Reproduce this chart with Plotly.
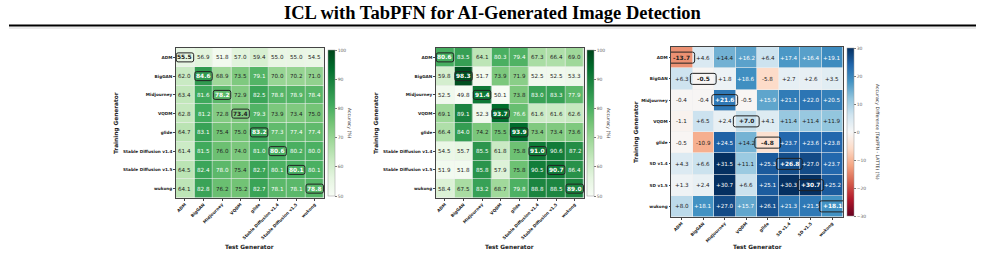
import plotly.graph_objects as go

# ---------------- data ----------------
gens_full = ["ADM", "BigGAN", "Midjourney", "VQDM", "glide",
             "Stable Diffusion v1.4", "Stable Diffusion v1.5", "wukong"]
gens_short = ["ADM", "BigGAN", "Midjourney", "VQDM", "glide",
              "SD v1.4", "SD v1.5", "wukong"]

acc_a = [
    [55.5, 56.9, 51.8, 57.0, 59.4, 55.0, 55.0, 54.5],
    [62.0, 84.6, 68.9, 73.5, 79.1, 70.0, 70.2, 71.0],
    [63.4, 81.6, 78.2, 72.9, 82.5, 78.8, 78.9, 78.4],
    [62.8, 81.2, 72.8, 73.4, 79.3, 73.9, 73.4, 75.0],
    [64.7, 83.1, 75.4, 75.0, 83.2, 77.3, 77.4, 77.4],
    [61.4, 81.5, 76.0, 74.0, 81.0, 80.6, 80.2, 80.0],
    [64.5, 82.4, 78.0, 75.4, 82.7, 80.1, 80.1, 80.1],
    [64.1, 82.8, 76.2, 75.2, 82.7, 78.1, 78.1, 78.8],
]
acc_b = [
    [80.6, 83.5, 64.1, 80.3, 79.4, 67.3, 66.4, 69.0],
    [59.8, 98.3, 51.7, 73.9, 71.9, 52.5, 52.5, 53.3],
    [52.5, 49.8, 91.4, 50.1, 73.8, 83.0, 83.3, 77.9],
    [69.1, 89.1, 52.3, 93.7, 76.6, 61.6, 61.6, 62.6],
    [66.4, 84.0, 74.2, 75.5, 93.9, 73.4, 73.4, 73.6],
    [54.5, 55.7, 85.5, 61.8, 75.8, 91.0, 90.6, 87.2],
    [51.9, 51.8, 85.8, 57.9, 75.8, 90.5, 90.7, 86.4],
    [58.4, 67.5, 83.2, 68.7, 79.8, 88.8, 88.5, 89.0],
]
diff = [
    [-13.7, 4.6, 14.4, 16.2, 6.4, 17.4, 16.4, 19.1],
    [6.3, -0.5, 1.8, 18.6, -5.8, 2.7, 2.6, 3.5],
    [-0.4, -0.4, 21.6, -0.5, 15.9, 21.1, 22.0, 20.5],
    [-1.1, 6.5, 2.4, 7.0, 4.1, 11.4, 11.4, 11.9],
    [-0.5, -10.9, 24.5, 14.2, -4.8, 23.7, 23.6, 23.8],
    [4.3, 6.6, 31.5, 11.1, 25.3, 26.8, 27.0, 23.7],
    [1.3, 2.4, 30.7, 6.6, 25.1, 30.3, 30.7, 25.2],
    [8.0, 18.1, 27.0, 15.7, 26.1, 21.3, 21.5, 18.1],
]
acc_ticks = [50, 60, 70, 80, 90, 100]
diff_ticks = [-30, -20, -10, 0, 10, 20, 30]

title = "ICL with TabPFN for AI-Generated Image Detection"

# ---------------- styles ----------------
W, H = 985, 255
greens = ["#f7fcf5", "#e5f5e0", "#c7e9c0", "#a1d99b", "#74c476",
          "#41ab5d", "#238b45", "#006d2c", "#00441b"]
greens_cs = [[i / (len(greens) - 1), c] for i, c in enumerate(greens)]
rdbu = ["#67001f", "#b2182b", "#d6604d", "#f4a582", "#fddbc7", "#f7f7f7",
        "#d1e5f0", "#92c5de", "#4393c3", "#2166ac", "#053061"]
rdbu_cs = [[i / (len(rdbu) - 1), c] for i, c in enumerate(rdbu)]

FONT = "DejaVu Sans"


def px_x(p):
    return p / W


def px_y(p):
    return 1 - p / H


panels = [
    dict(z=acc_a, labels=gens_full, cs=greens_cs, zmin=50, zmax=100, ticks=acc_ticks,
         xd=(175.7, 324.0), yd=(48, 198), cbx=328, cby=(50, 196),
         cbtitle="Accuracy (%)", cbtx=350, ylabx=116, fmt="{:.1f}",
         white=lambda v: v >= 76.5, bw=0.47, bh=0.24, fs=5.6),
    dict(z=acc_b, labels=gens_full, cs=greens_cs, zmin=50, zmax=100, ticks=acc_ticks,
         xd=(435.7, 584.0), yd=(48, 198), cbx=587, cby=(50, 196),
         cbtitle="Accuracy (%)", cbtx=609, ylabx=376, fmt="{:.1f}",
         white=lambda v: v >= 76.5, bw=0.47, bh=0.24, fs=5.6),
    dict(z=diff, labels=gens_short, cs=rdbu_cs, zmin=-30, zmax=30, ticks=diff_ticks,
         xd=(671.0, 843.0), yd=(47, 217), cbx=847, cby=(48, 216),
         cbtitle="Accuracy Difference (TabPFN - LATTE) (%)", cbtx=878, ylabx=636,
         fmt="{:+.1f}", white=lambda v: abs(v) > 15, bw=0.6, bh=0.26, fs=5.6),
]

fig = go.Figure()
annotations = []
shapes = []


def rrect(cx, cy, hw, hh, r):
    x0, x1 = cx - hw, cx + hw
    y0, y1 = cy - hh, cy + hh
    return (f"M {x0 + r},{y0} L {x1 - r},{y0} Q {x1},{y0} {x1},{y0 + r} "
            f"L {x1},{y1 - r} Q {x1},{y1} {x1 - r},{y1} L {x0 + r},{y1} "
            f"Q {x0},{y1} {x0},{y1 - r} L {x0},{y0 + r} Q {x0},{y0} {x0 + r},{y0} Z")


TICKFS = 4.2

for k, p in enumerate(panels):
    sfx = "" if k == 0 else str(k + 1)
    n = len(p["labels"])
    idx = list(range(n))
    cb_len = (p["cby"][1] - p["cby"][0]) / H
    cb_y = px_y((p["cby"][0] + p["cby"][1]) / 2)
    fig.add_trace(go.Heatmap(
        z=p["z"], x=idx, y=idx, colorscale=p["cs"], zmin=p["zmin"], zmax=p["zmax"],
        xgap=0.6, ygap=0.6, xaxis="x" + sfx, yaxis="y" + sfx, hoverinfo="z",
        colorbar=dict(x=px_x(p["cbx"]), xanchor="left", xpad=0, ypad=0,
                      y=cb_y, yanchor="middle", len=cb_len, lenmode="fraction",
                      thickness=7, thicknessmode="pixels",
                      tickvals=p["ticks"], ticks="outside", ticklen=2, tickwidth=0.5,
                      tickcolor="#777", tickfont=dict(size=4.5, color="#666", family=FONT),
                      outlinewidth=0.5, outlinecolor="#999"),
    ))
    ax = dict(domain=[px_x(p["xd"][0]), px_x(p["xd"][1])], range=[-0.5, n - 0.5],
              tickvals=idx, ticktext=p["labels"], tickangle=-45,
              tickfont=dict(size=TICKFS, color="#222", family=FONT, weight="bold"),
              showgrid=False, zeroline=False, showline=True, mirror=True,
              linecolor="#444", linewidth=1, ticks="outside", ticklen=1.5,
              tickwidth=0.5, tickcolor="#444",
              anchor="y" + sfx)
    ay = dict(domain=[px_y(p["yd"][1]), px_y(p["yd"][0])], range=[n - 0.5, -0.5],
              tickvals=idx, ticktext=p["labels"],
              tickfont=dict(size=TICKFS, color="#222", family=FONT, weight="bold"),
              showgrid=False, zeroline=False, showline=True, mirror=True,
              linecolor="#444", linewidth=1, ticks="outside", ticklen=1.5,
              tickwidth=0.5, tickcolor="#444",
              anchor="x" + sfx)
    fig.update_layout(**{"xaxis" + sfx: ax, "yaxis" + sfx: ay})

    # cell labels
    for i in range(n):
        for j in range(n):
            v = p["z"][i][j]
            diag = i == j
            annotations.append(dict(
                x=j, y=i, xref="x" + sfx, yref="y" + sfx, text=p["fmt"].format(v),
                showarrow=False,
                font=dict(size=p["fs"] + (0.3 if diag else 0), family=FONT,
                          color="white" if p["white"](v) else "#222",
                          weight="bold" if diag else "normal"),
            ))
        shapes.append(dict(type="path", xref="x" + sfx, yref="y" + sfx,
                           path=rrect(i, i, p["bw"], p["bh"], 0.1),
                           line=dict(color="#222", width=1), fillcolor="rgba(0,0,0,0)"))

    # axis titles
    cx = (p["xd"][0] + p["xd"][1]) / 2
    cy = (p["yd"][0] + p["yd"][1]) / 2
    annotations.append(dict(x=px_x(cx), y=px_y(247), xref="paper", yref="paper",
                            xanchor="center", yanchor="middle",
                            text="Test Generator", showarrow=False,
                            font=dict(size=5.8, family=FONT, color="#222", weight="bold")))
    annotations.append(dict(x=px_x(p["ylabx"]), y=px_y(cy), xref="paper", yref="paper",
                            xanchor="center", yanchor="middle",
                            text="Training Generator", showarrow=False, textangle=-90,
                            font=dict(size=5.8, family=FONT, color="#222", weight="bold")))
    cbcy = (p["cby"][0] + p["cby"][1]) / 2
    annotations.append(dict(x=px_x(p["cbtx"]), y=px_y(cbcy), xref="paper", yref="paper",
                            xanchor="center", yanchor="middle",
                            text=p["cbtitle"], showarrow=False, textangle=90,
                            font=dict(size=4.6, family=FONT, color="#333")))

# title + rule
annotations.append(dict(x=0.5, y=px_y(12.5), xref="paper", yref="paper", text=title,
                        xanchor="center", yanchor="middle", showarrow=False,
                        font=dict(size=18.5, family="Liberation Serif", color="black",
                                  weight="bold")))
shapes.append(dict(type="line", xref="paper", yref="paper", x0=px_x(9), x1=px_x(976),
                   y0=px_y(25.5), y1=px_y(25.5), line=dict(color="black", width=2)))
shapes.append(dict(type="line", xref="paper", yref="paper", x0=px_x(9), x1=px_x(976),
                   y0=px_y(28), y1=px_y(28), line=dict(color="#bbbbbb", width=0.6)))

fig.update_layout(width=W, height=H, margin=dict(l=0, r=0, t=0, b=0),
                  paper_bgcolor="white", plot_bgcolor="#f0f0f0",
                  annotations=annotations, shapes=shapes, showlegend=False,
                  font=dict(family=FONT))

fig.write_html("out.html")
